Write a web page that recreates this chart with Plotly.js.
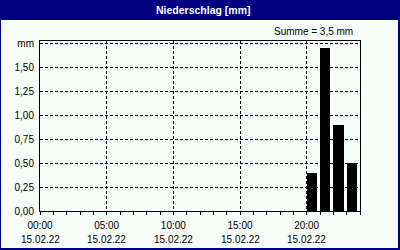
<!DOCTYPE html>
<html>
<head>
<meta charset="utf-8">
<script src="https://cdn.plot.ly/plotly-3.0.1.min.js"></script>
<style>html,body{margin:0;padding:0;background:#F8FCF8;}#chart{width:400px;height:250px;}</style>
</head>
<body>
<div id="chart"></div>
<script>
// Data
var hours = [0,1,2,3,4,5,6,7,8,9,10,11,12,13,14,15,16,17,18,19,20,21,22,23];
var precip = [0,0,0,0,0,0,0,0,0,0,0,0,0,0,0,0,0,0,0,0,0.4,1.7,0.9,0.5];
var xTickVals = [0,5,10,15,20];
var xTickTime = ["00:00","05:00","10:00","15:00","20:00"];
var xTickDate = ["15.02.22","15.02.22","15.02.22","15.02.22","15.02.22"];
var yTickVals = [0,0.25,0.5,0.75,1.0,1.25,1.5,1.75];
var yTickText = ["0,00","0,25","0,50","0,75","1,00","1,25","1,50","mm"];
var titleText = "Niederschlag [mm]";
var sumText = "Summe = 3,5 mm";

var W = 400, H = 250, L = 40, R = 40, T = 41, B = 39;
var pw = W - L - R, ph = H - T - B;
function px(x){ return (x - L) / pw; }
function py(y){ return (H - B - y) / ph; }

var FONT = "Liberation Sans, Arial, sans-serif";
var navy = "#000080";

var annotations = xTickVals.map(function(v, i){
  return {xref:'x', yref:'paper', x:v, y:py(239), text:xTickDate[i], showarrow:false,
          xanchor:'center', yanchor:'middle', font:{family:FONT, size:10, color:'#000'}};
});
annotations.push({xref:'paper', yref:'paper', x:px(203), y:py(10), text:'<b>'+titleText+'</b>',
  showarrow:false, xanchor:'center', yanchor:'middle', font:{family:FONT, size:10.5, color:'#fff'}});
annotations.push({xref:'paper', yref:'paper', x:px(355), y:py(31), text:sumText,
  showarrow:false, xanchor:'right', yanchor:'middle', font:{family:FONT, size:10, color:'#000'}});

var shapes = [
  {type:'rect', xref:'paper', yref:'paper', x0:px(0), x1:px(400), y0:py(0), y1:py(20), fillcolor:navy, line:{width:0}, layer:'below'},
  {type:'rect', xref:'paper', yref:'paper', x0:px(0), x1:px(1), y0:py(0), y1:py(250), fillcolor:navy, line:{width:0}, layer:'below'},
  {type:'rect', xref:'paper', yref:'paper', x0:px(398), x1:px(400), y0:py(0), y1:py(250), fillcolor:navy, line:{width:0}, layer:'below'},
  {type:'rect', xref:'paper', yref:'paper', x0:px(0), x1:px(400), y0:py(248), y1:py(250), fillcolor:navy, line:{width:0}, layer:'below'}
];

var trace = {
  type:'bar', x:hours, y:precip, width:0.77, offset:0,
  marker:{color:'#000', line:{width:0}}, hoverinfo:'skip'
};

var layout = {
  width:W, height:H,
  margin:{l:L, r:R, t:T, b:B, pad:0},
  paper_bgcolor:'#F8FCF8', plot_bgcolor:'#F8FCF8',
  showlegend:false, bargap:0,
  font:{family:FONT, size:10, color:'#000'},
  xaxis:{
    range:[0,24], tickmode:'array', tickvals:xTickVals, ticktext:xTickTime,
    ticks:'outside', ticklen:3, tickcolor:'#000', tickwidth:1,
    showgrid:true, gridcolor:'#000', gridwidth:1, griddash:'3px,2px',
    showline:true, linecolor:'#000', linewidth:1, mirror:true,
    zeroline:false, ticklabelstandoff:2, tickfont:{family:FONT, size:10, color:'#000'},
    minor:{dtick:1, tick0:0, ticks:'outside', ticklen:3, tickcolor:'#000', showgrid:false},
    fixedrange:true
  },
  yaxis:{
    range:[0,1.775], tickmode:'array', tickvals:yTickVals, ticktext:yTickText,
    ticks:'', showgrid:true, gridcolor:'#000', gridwidth:1, griddash:'3px,2px',
    showline:true, linecolor:'#000', linewidth:1, mirror:true,
    zeroline:false, ticklabelstandoff:3, tickfont:{family:FONT, size:10, color:'#000'},
    fixedrange:true
  },
  shapes:shapes,
  annotations:annotations
};

Plotly.newPlot('chart', [trace], layout, {displayModeBar:false, staticPlot:true});
</script>
</body>
</html>
